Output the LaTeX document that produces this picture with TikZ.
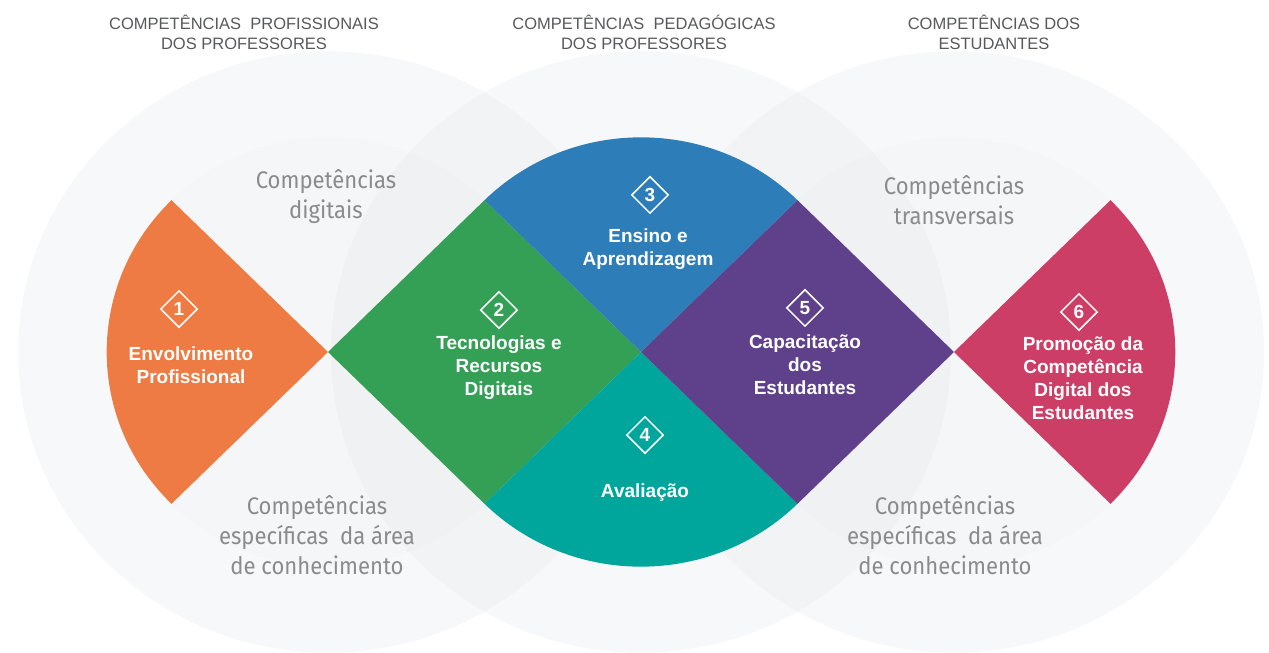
\documentclass[tikz,border=0pt]{standalone}
\usepackage{fontspec}
\setmainfont{Liberation Sans}
\newfontfamily\softfont[FakeStretch=0.92]{Fira Sans}
\usepackage{xcolor}
\usetikzlibrary{shapes.geometric,positioning}

\definecolor{orangeA}{HTML}{ED7B43}
\definecolor{greenA}{HTML}{33A055}
\definecolor{blueA}{HTML}{2D7DB9}
\definecolor{tealA}{HTML}{00A59C}
\definecolor{purpleA}{HTML}{5E408B}
\definecolor{pinkA}{HTML}{CC3E65}
\definecolor{ringgray}{RGB}{226,228,232}
\definecolor{headgray}{HTML}{58595B}
\definecolor{skillgray}{HTML}{8A8B8C}

\tikzset{
  ringfill/.style={fill=ringgray, fill opacity=0.26},
  corefill/.style={fill=ringgray, fill opacity=0.12},
  badge/.style={diamond, draw=white, line width=1.5pt, minimum width=37pt,
    minimum height=37pt, inner sep=0pt, text=white,
    font=\bfseries\fontsize{19}{19}\selectfont},
  areatext/.style={text=white, align=center, font=\bfseries\fontsize{19}{23}\selectfont},
  skilltext/.style={text=skillgray, align=center, font=\softfont\fontsize{24}{30}\selectfont},
  headtext/.style={text=headgray, align=center, font=\fontsize{16.5}{20}\selectfont}
}

\begin{document}
\begin{tikzpicture}[x=1pt,y=0.97pt]
        \useasboundingbox (-641,-309.28) rectangle (628,362.89);

        % Centres of the three groups
        \coordinate (c1) at (-313,0);
        \coordinate (c2) at (0,0);
        \coordinate (c3) at (313,0);

        % Background circles
        \foreach \c in {c1,c2,c3} {
            \fill[ringfill] (\c) circle[radius=310];
        }
        \foreach \c in {c1,c2,c3} {
            \fill[corefill] (\c) circle[radius=221.3];
        }

        % Areas
        \fill[orangeA] (c1) -- ++(135:221.3) arc[start angle=135, end angle=225, radius=221.3] -- cycle;
        \fill[greenA] (c1) -- (-156.5,156.5) -- (c2) -- (-156.5,-156.5) -- cycle;
        \fill[blueA] (c2) -- ++(45:221.3) arc[start angle=45, end angle=135, radius=221.3] -- cycle;
        \fill[tealA] (c2) -- ++(225:221.3) arc[start angle=225, end angle=315, radius=221.3] -- cycle;
        \fill[purpleA] (c2) -- (156.5,156.5) -- (c3) -- (156.5,-156.5) -- cycle;
        \fill[pinkA] (c3) -- ++(-45:221.3) arc[start angle=-45, end angle=45, radius=221.3] -- cycle;

        % Headings
        \node[headtext] (t1) at (-397,330) {COMPETÊNCIAS\ \ PROFISSIONAIS\\DOS PROFESSORES};
        \node[headtext] (t2) at (3,330) {COMPETÊNCIAS\ \ PEDAGÓGICAS\\DOS PROFESSORES};
        \node[headtext] (t3) at (353,330) {COMPETÊNCIAS DOS\\ESTUDANTES};

        % Competence labels
        \node[skilltext] (s1) at (-315,159.8) {Competências\\digitais};
        \node[skilltext] (s2) at (313,156.7) {Competências\\transversais};
        \node[skilltext] (s3) at (-324,-188.7) {Competências\\específicas\ \ da área\\de conhecimento};
        \node[skilltext] (s4) at (304,-188.7) {Competências\\específicas\ \ da área\\de conhecimento};

        % Numbered badges
        \node[badge] (d1) at (-462,44.3) {1};
        \node[badge] (d2) at (-142,43.3) {2};
        \node[badge] (d3) at (9,161.9) {3};
        \node[badge] (d4) at (4,-85.6) {4};
        \node[badge] (d5) at (164,45.4) {5};
        \node[badge] (d6) at (438,41.2) {6};

        % Area names
        \node[areatext] (l1) at (-450,-13.4) {Envolvimento\\Profissional};
        \node[areatext] (l2) at (-142,-16.5) {Tecnologias e\\Recursos\\Digitais};
        \node[areatext] (l3) at (7,105.7) {Ensino e\\Aprendizagem};
        \node[areatext] (l4) at (4,-145.4) {Avaliação};
        \node[areatext] (l5) at (164,-12.9) {Capacitação\\dos\\Estudantes};
        \node[areatext] (l6) at (442,-26.8) {Promoção da\\Competência\\Digital dos\\Estudantes};
    \end{tikzpicture}
\end{document}
